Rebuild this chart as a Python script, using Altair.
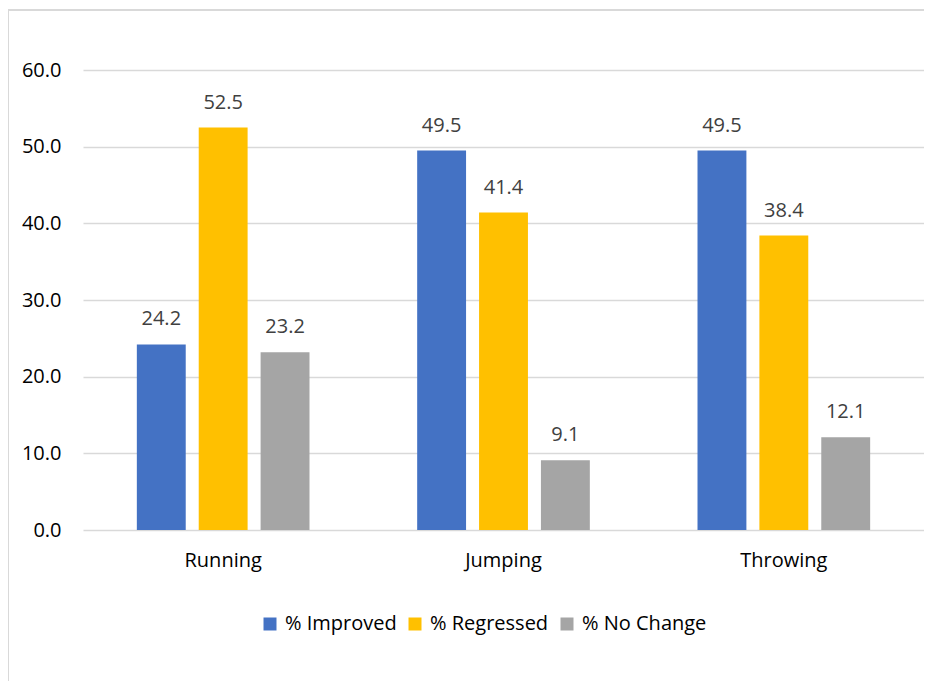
import altair as alt
import pandas as pd

categories = ["Running", "Jumping", "Throwing"]
series = ["% Improved", "% Regressed", "% No Change"]
improved = [24.2, 49.5, 49.5]
regressed = [52.5, 41.4, 38.4]
nochange = [23.2, 9.1, 12.1]
colors = ["#4472C4", "#FFC000", "#A5A5A5"]
y_ticks = [0, 10, 20, 30, 40, 50, 60]

rows = []
for s, vals in zip(series, [improved, regressed, nochange]):
    for c, v in zip(categories, vals):
        rows.append({"Activity": c, "Series": s, "Value": v})
df = pd.DataFrame(rows)

FONT = "Open Sans"
FS = 20

x = alt.X("Activity:N", sort=categories,
          scale=alt.Scale(paddingInner=0, paddingOuter=0),
          axis=alt.Axis(title=None, labelAngle=0, domain=False, ticks=False,
                        labelFontSize=FS, labelPadding=20, labelColor="#000000",
                        labelFont=FONT))
xo = alt.XOffset("Series:N", sort=series,
                 scale=alt.Scale(paddingInner=0.21, paddingOuter=0.87))
y = alt.Y("Value:Q", scale=alt.Scale(domain=[0, 60], nice=False),
          axis=alt.Axis(title=None, values=y_ticks, format=".1f", domain=False,
                        ticks=False, gridColor="#D9D9D9", gridWidth=1.5,
                        labelPadding=22, labelFontSize=FS, labelColor="#000000",
                        labelFont=FONT))
color = alt.Color("Series:N", sort=series,
                  scale=alt.Scale(domain=series, range=colors),
                  legend=alt.Legend(title=None, orient="none", legendX=177, legendY=544,
                                    direction="horizontal", symbolType="square",
                                    symbolSize=169, symbolStrokeWidth=0,
                                    labelFontSize=FS, labelFont=FONT,
                                    labelColor="#000000", columnPadding=8,
                                    labelOffset=5))

base = alt.Chart(df)
bars = base.mark_bar().encode(x=x, xOffset=xo, y=y, color=color)
labels = base.mark_text(baseline="alphabetic", dy=-19, fontSize=FS, font=FONT,
                        color="#404040").encode(
    x=x, xOffset=xo, y=y, text=alt.Text("Value:Q", format=".1f"))

border_data = alt.Data(values=[{"k": 1}])
top_border = alt.Chart(border_data).mark_rule(color="#D9D9D9", strokeWidth=2).encode(
    x=alt.value(-75), x2=alt.value(841), y=alt.value(-60))
left_border = alt.Chart(border_data).mark_rule(color="#D9D9D9", strokeWidth=2).encode(
    x=alt.value(-75), y=alt.value(-60), y2=alt.value(640))

chart = alt.layer(bars, labels, top_border, left_border).properties(
    width=841, height=460,
    autosize=alt.AutoSizeParams(type="none"),
    padding={"left": 75, "top": 62, "right": 0, "bottom": 151},
).configure_view(stroke=None)

chart.save("out.html", embed_options={"renderer": "svg", "actions": False})
